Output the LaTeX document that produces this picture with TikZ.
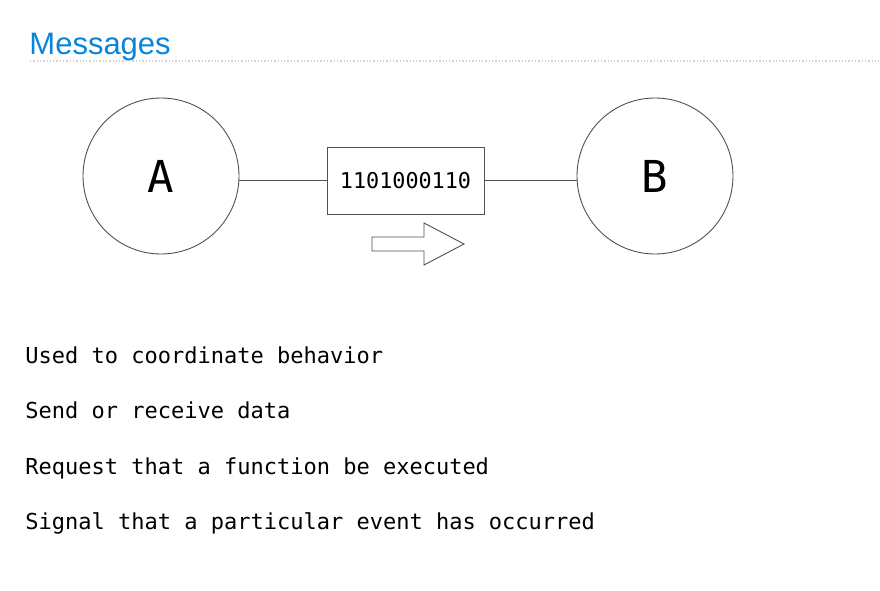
\documentclass[tikz,border=0pt]{standalone}
\usepackage{fontspec}
\setmainfont{Liberation Sans}
\setmonofont{DejaVu Sans Mono}
\definecolor{msgblue}{HTML}{0A84D8}
\definecolor{edgegray}{HTML}{505050}
\begin{document}
\begin{tikzpicture}[x=1pt,y=-1pt,line width=0.9pt,
  party/.style={draw=edgegray,circle,minimum size=156pt,inner sep=0pt,font=\fontsize{44}{44}\ttfamily},
  packet/.style={draw=edgegray,minimum width=157pt,minimum height=67pt,inner sep=0pt,font=\fontsize{21.8}{22}\ttfamily},
  item/.style={anchor=base west,inner sep=0pt,font=\fontsize{22}{22}\ttfamily}]
\useasboundingbox (0,0) rectangle (880,591);
\node [anchor=base west,inner sep=0pt,text=msgblue,font=\fontsize{31}{31}\selectfont] (title) at (29,55) {Messages};
\draw [dotted,line width=1.3pt,black!18] (30,61) -- (880,61);
\node [party] (a) at (161,176) {A};
\node [party] (b) at (655,176) {B};
\node [packet] (msg) at (405.5,180.5) {1101000110};
\draw [edgegray] (a.east |- msg.west) -- (msg.west);
\draw [edgegray] (msg.east) -- (b.west |- msg.east);
\draw [edgegray] (372,237) -- (424,237) -- (424,223) -- (464,244) -- (424,265) -- (424,251) -- (372,251) -- cycle;
\node [item] (use1) at (25,363) {Used to coordinate behavior};
\node [item] (use2) at (25,418.5) {Send or receive data};
\node [item] (use3) at (25,474) {Request that a function be executed};
\node [item] (use4) at (25,529.5) {Signal that a particular event has occurred};
\end{tikzpicture}
\end{document}
